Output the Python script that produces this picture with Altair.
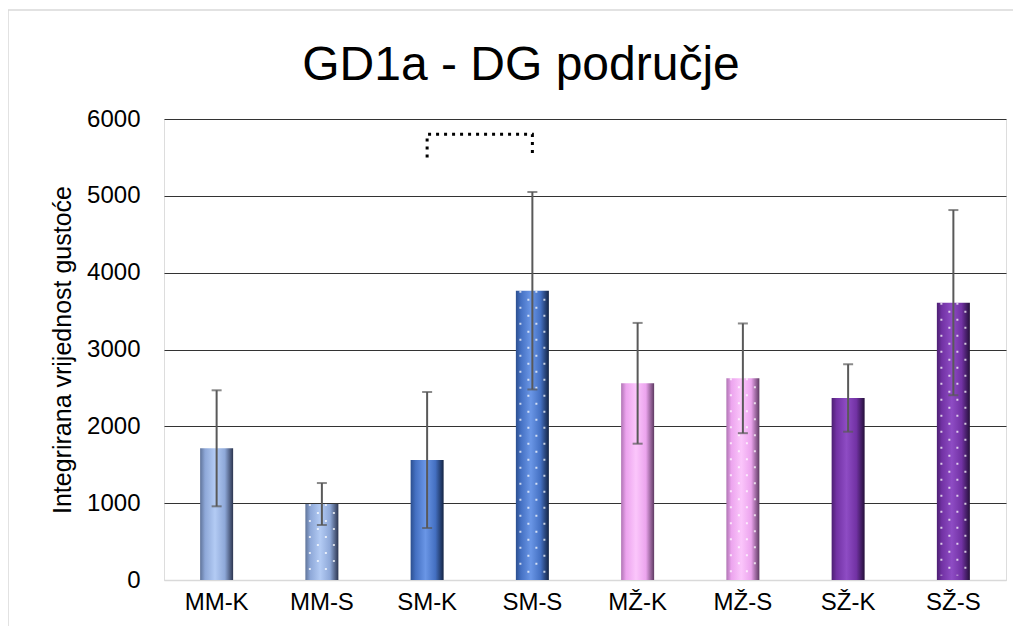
import altair as alt
import pandas as pd

# ---- data ----
groups = ["MM-K", "MM-S", "SM-K", "SM-S", "MŽ-K", "MŽ-S", "SŽ-K", "SŽ-S"]
means = [1714, 989, 1562, 3765, 2560, 2625, 2369, 3610]
errors = [755, 273, 885, 1285, 786, 714, 439, 1205]
dotted = [False, True, False, True, False, True, False, True]

bracket_x = ["SM-K", "SM-K", "SM-S", "SM-S"]
bracket_y = [5500, 5800, 5800, 5500]
bracket_order = [0, 1, 2, 3]

y_ticks = [0, 1000, 2000, 3000, 4000, 5000, 6000]
chart_title = "GD1a - DG područje"
y_title = "Integrirana vrijednost gustoće"

# ---- styles ----
palette = {
    "MM": ("#5f7399", "#8ea8d8", "#b3cbf4", "#2c3550"),
    "SM": ("#2c4f8f", "#4470c2", "#6a96e6", "#142444"),
    "MŽ": ("#b074b4", "#eca4ee", "#fbc6fb", "#5e3a62"),
    "SŽ": ("#4c1f72", "#7232a4", "#8e4cc4", "#25103a"),
}

df = pd.DataFrame({
    "group": groups,
    "mean": means,
    "lo": [m - e for m, e in zip(means, errors)],
    "hi": [m + e for m, e in zip(means, errors)],
    "dotted": dotted,
})
br = pd.DataFrame({"group": bracket_x, "v": bracket_y, "o": bracket_order})

FONT = "Liberation Sans"
W, H = 842, 461

x_enc = alt.X("group:N", sort=groups, title=None,
              scale=alt.Scale(paddingInner=0.0, paddingOuter=0.0),
              axis=alt.Axis(labelAngle=0, labelFontSize=24, labelFont=FONT,
                            labelColor="#000000", ticks=False, labelPadding=10,
                            domainColor="#d9d9d9", domainWidth=1.5))
y_scale = alt.Scale(domain=[0, 6000], nice=False)

base = alt.Chart(df)
first = base.transform_filter(alt.datum.group == groups[0])

layers = []

# border around the whole chart (decoration)
border = first.mark_rect(filled=False, stroke="#d9d9d9", strokeWidth=1.5).encode(
    x=alt.value(-156), x2=alt.value(W + 200), y=alt.value(-109), y2=alt.value(H + 300)
)
layers.append(border)

# chart title
title_mark = first.mark_text(text=chart_title, fontSize=48, font=FONT, color="#000000",
                             align="center", baseline="alphabetic").encode(
    x=alt.value(357), y=alt.value(-39))
layers.append(title_mark)

# bars with per-bar gradient
for g in groups:
    dark, basec, light, edge = palette[g.split("-")[0]]
    grad = alt.Gradient(
        gradient="linear", x1=0, x2=1, y1=0, y2=0,
        stops=[
            alt.GradientStop(color=dark, offset=0.0),
            alt.GradientStop(color=basec, offset=0.15),
            alt.GradientStop(color=light, offset=0.45),
            alt.GradientStop(color=basec, offset=0.75),
            alt.GradientStop(color=edge, offset=1.0),
        ],
    )
    bar = base.transform_filter(alt.datum.group == g).mark_bar(size=33, fill=grad).encode(
        x=x_enc,
        y=alt.Y("mean:Q", scale=y_scale, title=y_title,
                axis=alt.Axis(values=y_ticks, format="d", labelFontSize=24, labelFont=FONT,
                              labelColor="#000000", ticks=False, domain=False,
                              labelPadding=24, titleFontSize=25, titleFont=FONT,
                              titleFontWeight="normal", titleColor="#000000",
                              titlePadding=11,
                              gridColor={"condition": {"test": "datum.value === 0", "value": "#d9d9d9"},
                                         "value": "#333333"},
                              gridWidth=1.2)),
    )
    layers.append(bar)

# dot texture on the "S" bars
for i, off in enumerate([-12, -4, 4, 12]):
    dots = base.transform_filter(alt.datum.dotted).mark_rule(
        color="white", opacity=0.75, strokeWidth=2, strokeDash=[2, 14],
        strokeDashOffset=(0 if i % 2 == 0 else 8), xOffset=off,
    ).encode(x=alt.X("group:N", sort=groups), y=alt.Y("mean:Q", scale=y_scale), y2=alt.datum(60))
    layers.append(dots)

# error bars
err = base.mark_rule(color="#595959", strokeWidth=2).encode(
    x=alt.X("group:N", sort=groups), y=alt.Y("lo:Q", scale=y_scale), y2="hi:Q")
cap_hi = base.mark_tick(color="#595959", thickness=2, size=10).encode(
    x=alt.X("group:N", sort=groups), y=alt.Y("hi:Q", scale=y_scale))
cap_lo = base.mark_tick(color="#595959", thickness=2, size=10).encode(
    x=alt.X("group:N", sort=groups), y=alt.Y("lo:Q", scale=y_scale))
layers += [err, cap_hi, cap_lo]

# significance bracket
bracket = alt.Chart(br).mark_line(color="black", strokeWidth=3, strokeDash=[3, 5]).encode(
    x=alt.X("group:N", sort=groups), y=alt.Y("v:Q", scale=y_scale), order="o:Q")
layers.append(bracket)

chart = alt.layer(*layers).properties(
    width=W, height=H,
    autosize=alt.AutoSizeParams(type="none"),
    padding={"left": 156, "top": 111, "right": 7, "bottom": 46},
).configure_view(stroke=None).configure(background="white")

chart.save("out.html", embed_options={"renderer": "svg", "actions": False})
